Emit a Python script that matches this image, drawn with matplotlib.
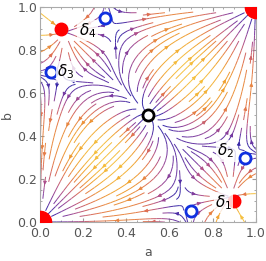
import numpy as np
import matplotlib.pyplot as plt
from matplotlib.colors import LinearSegmentedColormap, Normalize

# fixed points of the dynamics
stable_big = [(0.0, 0.0), (1.0, 1.0)]
stable_small = [(0.9, 0.1), (0.1, 0.9)]
saddles = [(0.7, 0.05), (0.95, 0.3), (0.05, 0.7), (0.3, 0.95)]
source = [(0.5, 0.5)]
labels = [r"$\delta_1$", r"$\delta_2$", r"$\delta_3$", r"$\delta_4$"]
label_pos = [(0.85, 0.09), (0.86, 0.33), (0.12, 0.70), (0.22, 0.89)]
ticks = [0.0, 0.2, 0.4, 0.6, 0.8, 1.0]


def potential(a, b):
    v = np.zeros_like(a)
    for (x, y) in stable_big:
        v -= 1.0 * np.exp(-((a - x)**2 + (b - y)**2) / 0.35)
    for (x, y) in stable_small:
        v -= 0.35 * np.exp(-((a - x)**2 + (b - y)**2) / 0.03)
    for (x, y) in source:
        v += 0.3 * np.exp(-((a - x)**2 + (b - y)**2) / 0.08)
    return v


g = np.linspace(0, 1, 200)
A, B = np.meshgrid(g, g)
V = potential(A, B)
dVb, dVa = np.gradient(V, g, g)
U, W = -dVa, -dVb
speed = np.hypot(U, W)
norm = Normalize(vmin=np.percentile(speed, 5), vmax=np.percentile(speed, 97))

cmap = LinearSegmentedColormap.from_list(
    "flow", ["#3a2aa8", "#7a3aa0", "#b0508a", "#e07050", "#f0a030", "#f5c040"])

fig = plt.figure(figsize=(2.66, 2.61), dpi=100)
ax = fig.add_axes([0.150, 0.149, 0.812, 0.824])
ax.streamplot(A, B, U, W, color=speed, cmap=cmap, norm=norm, density=1.3,
              linewidth=0.7, arrowsize=0.5)

for (x, y) in stable_big:
    ax.plot(x, y, 'o', ms=16, color='red', clip_on=True, zorder=5)
for (x, y) in stable_small:
    ax.plot(x, y, 'o', ms=9, color='red', zorder=5)
for (x, y) in saddles:
    ax.plot(x, y, 'o', ms=8, mfc='white', mec='#1030e0', mew=2, zorder=5)
for (x, y) in source:
    ax.plot(x, y, 'o', ms=8, mfc='white', mec='black', mew=2, zorder=5)
for t, (x, y) in zip(labels, label_pos):
    ax.text(x, y, t, fontsize=11, ha='center', va='center', zorder=6,
            bbox=dict(facecolor='white', edgecolor='none', alpha=0.8, pad=1))

ax.set_xlim(0, 1)
ax.set_ylim(0, 1)
ax.set_xticks(ticks)
ax.set_yticks(ticks)
ax.set_xticklabels([f"{t:.1f}" for t in ticks])
ax.set_yticklabels([f"{t:.1f}" for t in ticks])
ax.minorticks_on()
ax.tick_params(which='both', direction='in', colors='#999999', labelcolor='#555555',
               labelsize=9, top=True, right=True, pad=2)
ax.tick_params(axis='x', which='major', pad=3.5)
ax.tick_params(which='major', length=3)
ax.tick_params(which='minor', length=1.5)
for s in ax.spines.values():
    s.set_color('#aaaaaa')
ax.set_xlabel('a', color='#555555', fontsize=9, labelpad=4)
ax.set_ylabel('b', color='#555555', fontsize=9, labelpad=2)

fig.savefig('out.png', dpi=100)
